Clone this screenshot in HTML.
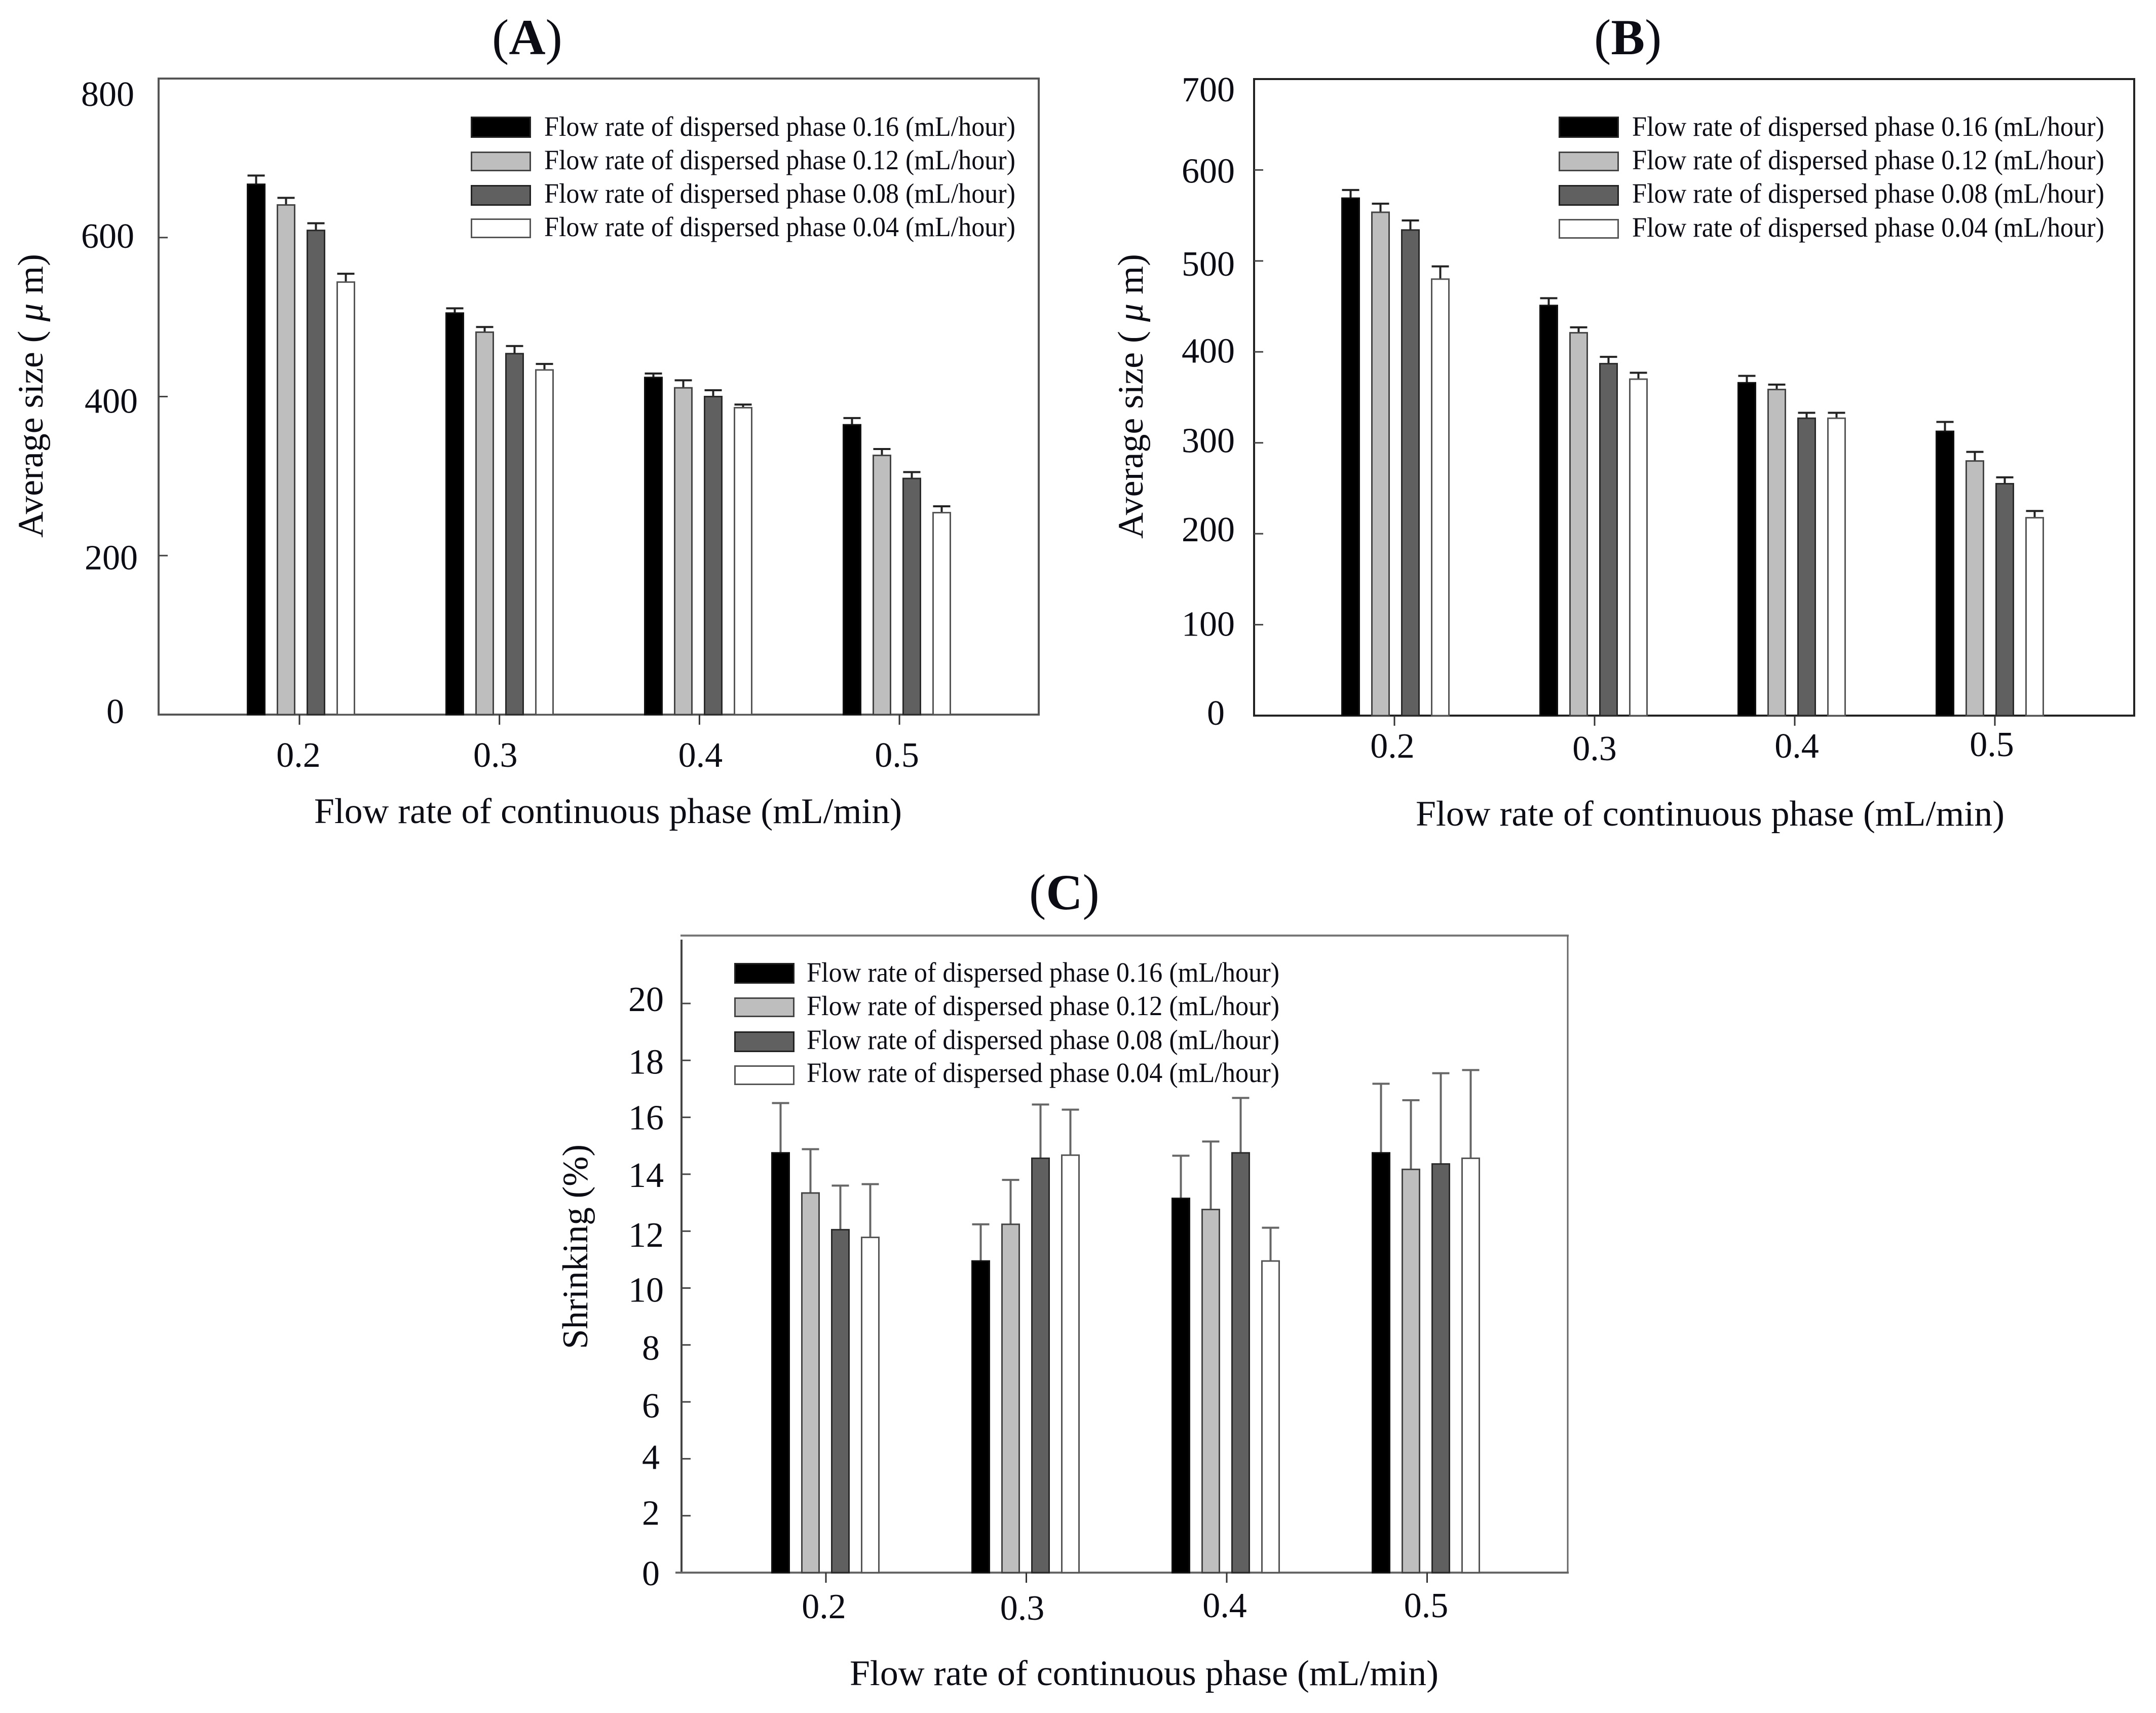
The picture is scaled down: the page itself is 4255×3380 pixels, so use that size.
<!DOCTYPE html>
<html lang="en">
<head>
<meta charset="utf-8">
<title>Flow rate charts</title>
<style>
html,body{margin:0;padding:0;background:#fff;}
svg{display:block;}
text{font-family:"Liberation Serif",serif;fill:#0c0c14;}
.tick{font-size:70px;}
.axt{font-size:71px;}
.leg{font-size:55px;}
.ttl{font-size:100px;}
.ttl tspan.b{font-weight:bold;}
</style>
</head>
<body>
<svg id="figure" xmlns="http://www.w3.org/2000/svg" width="4255" height="3380" viewBox="0 0 4255 3380">
<rect width="4255" height="3380" fill="#fff"/>

<!-- Panel A -->
<g id="panel-a">
  <text class="ttl" x="971" y="107">(<tspan class="b">A</tspan>)</text>
  <rect x="313" y="155" width="1737" height="1255" fill="none" stroke="#555" stroke-width="4"/>
  <text class="axt" transform="translate(84,1061) rotate(-90)" textLength="560" lengthAdjust="spacingAndGlyphs">Average size ( <tspan font-style="italic">μ</tspan> m)</text>
  <text class="axt" x="620" y="1624" textLength="1160" lengthAdjust="spacingAndGlyphs">Flow rate of continuous phase (mL/min)</text>
  <g>
    <rect x="930.5" y="231.5" width="116" height="39" fill="#000" stroke="#222" stroke-width="3"/>
    <rect x="930.5" y="300.5" width="116" height="36" fill="#bebebe" stroke="#444" stroke-width="3"/>
    <rect x="930.5" y="366.5" width="116" height="38" fill="#606060" stroke="#222" stroke-width="3"/>
    <rect x="930.5" y="432.5" width="116" height="36" fill="#fff" stroke="#555" stroke-width="3"/>
    <text class="leg" x="1074" y="268" textLength="930" lengthAdjust="spacingAndGlyphs">Flow rate of dispersed phase 0.16 (mL/hour)</text>
    <text class="leg" x="1074" y="334" textLength="930" lengthAdjust="spacingAndGlyphs">Flow rate of dispersed phase 0.12 (mL/hour)</text>
    <text class="leg" x="1074" y="400" textLength="930" lengthAdjust="spacingAndGlyphs">Flow rate of dispersed phase 0.08 (mL/hour)</text>
    <text class="leg" x="1074" y="466" textLength="930" lengthAdjust="spacingAndGlyphs">Flow rate of dispersed phase 0.04 (mL/hour)</text>
  </g>
</g>

<!-- Panel B -->
<g id="panel-b">
  <text class="ttl" x="3146" y="107">(<tspan class="b">B</tspan>)</text>
  <rect x="2475" y="156" width="1737" height="1256" fill="none" stroke="#222" stroke-width="4"/>
  <text class="axt" transform="translate(2255,1063) rotate(-90)" textLength="562" lengthAdjust="spacingAndGlyphs">Average size ( <tspan font-style="italic">μ</tspan> m)</text>
  <text class="axt" x="2794" y="1629" textLength="1162" lengthAdjust="spacingAndGlyphs">Flow rate of continuous phase (mL/min)</text>
  <g>
    <rect x="3077.5" y="231.5" width="116" height="39" fill="#000" stroke="#222" stroke-width="3"/>
    <rect x="3077.5" y="300.5" width="116" height="36" fill="#bebebe" stroke="#444" stroke-width="3"/>
    <rect x="3077.5" y="366.5" width="116" height="38" fill="#606060" stroke="#222" stroke-width="3"/>
    <rect x="3077.5" y="433.5" width="116" height="36" fill="#fff" stroke="#555" stroke-width="3"/>
    <text class="leg" x="3221" y="268" textLength="932" lengthAdjust="spacingAndGlyphs">Flow rate of dispersed phase 0.16 (mL/hour)</text>
    <text class="leg" x="3221" y="334" textLength="932" lengthAdjust="spacingAndGlyphs">Flow rate of dispersed phase 0.12 (mL/hour)</text>
    <text class="leg" x="3221" y="400" textLength="932" lengthAdjust="spacingAndGlyphs">Flow rate of dispersed phase 0.08 (mL/hour)</text>
    <text class="leg" x="3221" y="467" textLength="932" lengthAdjust="spacingAndGlyphs">Flow rate of dispersed phase 0.04 (mL/hour)</text>
  </g>
</g>

<!-- Panel C -->
<g id="panel-c">
  <text class="ttl" x="2031" y="1794">(<tspan class="b">C</tspan>)</text>
  <line x1="1343" y1="1846" x2="3096" y2="1846" stroke="#777" stroke-width="4"/>
  <line x1="3094" y1="1846" x2="3094" y2="3103" stroke="#666" stroke-width="3"/>
  <line x1="1345" y1="1854" x2="1345" y2="3103" stroke="#444" stroke-width="4"/>
  <line x1="1333" y1="3103" x2="3096" y2="3103" stroke="#666" stroke-width="4"/>
  <text class="axt" transform="translate(1159,2662) rotate(-90)" textLength="404" lengthAdjust="spacingAndGlyphs">Shrinking (%)</text>
  <text class="axt" x="1677" y="3325" textLength="1162" lengthAdjust="spacingAndGlyphs">Flow rate of continuous phase (mL/min)</text>
  <g>
    <rect x="1450.5" y="1901.5" width="116" height="38" fill="#000" stroke="#222" stroke-width="3"/>
    <rect x="1450.5" y="1969.5" width="116" height="36" fill="#bebebe" stroke="#444" stroke-width="3"/>
    <rect x="1450.5" y="2036.5" width="116" height="38" fill="#606060" stroke="#222" stroke-width="3"/>
    <rect x="1450.5" y="2103.5" width="116" height="36" fill="#fff" stroke="#555" stroke-width="3"/>
    <text class="leg" x="1592" y="1937" textLength="933" lengthAdjust="spacingAndGlyphs">Flow rate of dispersed phase 0.16 (mL/hour)</text>
    <text class="leg" x="1592" y="2003" textLength="933" lengthAdjust="spacingAndGlyphs">Flow rate of dispersed phase 0.12 (mL/hour)</text>
    <text class="leg" x="1592" y="2070" textLength="933" lengthAdjust="spacingAndGlyphs">Flow rate of dispersed phase 0.08 (mL/hour)</text>
    <text class="leg" x="1592" y="2135" textLength="933" lengthAdjust="spacingAndGlyphs">Flow rate of dispersed phase 0.04 (mL/hour)</text>
  </g>
</g>
</svg>

<script>
// ---- chart data ----
const categories = [0.2, 0.3, 0.4, 0.5];
const seriesNames = ['0.16', '0.12', '0.08', '0.04'];

const yTicksA = [0, 200, 400, 600, 800];
const a016 = [667, 505, 424, 364.5];
const a012 = [641, 481, 411, 326];
const a008 = [609, 454, 400, 297];
const a004 = [544, 433.5, 386, 254];
const a016Err = [11, 6, 5, 8.5];
const a012Err = [9, 6.5, 9.5, 8];
const a008Err = [9, 9.6, 8, 8];
const a004Err = [10.5, 7.5, 4, 8];

const yTicksB = [0, 100, 200, 300, 400, 500, 600, 700];
const b016 = [569, 451, 366, 312.6];
const b012 = [553.5, 421, 358.6, 280];
const b008 = [534, 387, 327, 255];
const b004 = [480, 370, 327, 217.6];
const b016Err = [9, 8, 7.6, 10.4];
const b012Err = [9.5, 6, 5.4, 10];
const b008Err = [10.5, 7.5, 6, 7];
const b004Err = [14, 7, 6, 7.4];

const yTicksC = [0, 2, 4, 6, 8, 10, 12, 14, 16, 18, 20];
const c016 = [14.75, 10.95, 13.15, 14.75];
const c012 = [13.34, 12.24, 12.76, 14.17];
const c008 = [12.05, 14.56, 14.75, 14.36];
const c004 = [11.78, 14.67, 10.95, 14.56];
const c016Err = [1.75, 1.29, 1.5, 2.43];
const c012Err = [1.54, 1.56, 2.39, 2.43];
const c008Err = [1.55, 1.89, 1.93, 3.19];
const c004Err = [1.87, 1.6, 1.17, 3.1];

// ---- rendering ----
const NS = 'http://www.w3.org/2000/svg';
const fills = ['#000000', '#bebebe', '#606060', '#ffffff'];
const strokes = ['#111111', '#444444', '#2a2a2a', '#555555'];

function mk(parent, tag, attrs) {
  const el = document.createElementNS(NS, tag);
  for (const k in attrs) el.setAttribute(k, attrs[k]);
  parent.appendChild(el);
  return el;
}

function drawPanel(cfg) {
  const root = document.getElementById(cfg.id);
  const xScale = function (c) { return cfg.x0 + (c - categories[0]) / 0.1 * cfg.xStep; };
  const barScale = function (c) { return cfg.x0 + cfg.barShift + (c - categories[0]) / 0.1 * cfg.barStep; };
  const yScale = function (v) { return cfg.yBase - v / cfg.yMax * (cfg.yBase - cfg.yTop); };

  cfg.yTicks.forEach(function (t, i) {
    if (t !== 0 && (t !== cfg.yMax || cfg.topTick)) {
      const tick = mk(root, 'line', {x1: cfg.left, x2: cfg.left + 18, y1: yScale(t), y2: yScale(t), stroke: '#444', 'stroke-width': 3});
      
      
    }
    const lab = mk(root, 'text', {'class': 'tick', x: cfg.yLabRight[i], y: yScale(t) + cfg.yLabDy[i], 'text-anchor': 'end'});
    lab.textContent = String(t);
    
    
  });

  categories.forEach(function (c, i) {
    const tx = xScale(c);
    const tick = mk(root, 'line', {x1: tx, x2: tx, y1: cfg.yBase, y2: cfg.yBase + 20, stroke: '#333', 'stroke-width': 3});
    
    
    const lab = mk(root, 'text', {'class': 'tick', x: tx + cfg.xLabDx[i], y: cfg.xLabY[i], 'text-anchor': 'middle'});
    lab.textContent = c.toFixed(1);
    
    
  });

  cfg.means.forEach(function (series, s) {
    series.forEach(function (v, i) {
      const cx = barScale(categories[i]) + (s - 1.5) * 59;
      const top = yScale(v);
      const errTop = yScale(v + cfg.errs[s][i]);
      const stem = mk(root, 'line', {x1: cx, x2: cx, y1: top, y2: errTop, stroke: cfg.errColor, 'stroke-width': 4});
      
      
      const cap = mk(root, 'line', {x1: cx - 17, x2: cx + 17, y1: errTop, y2: errTop, stroke: cfg.errColor, 'stroke-width': 4});
      
      
      const bar = mk(root, 'rect', {x: cx - 17, y: top, width: 34, height: cfg.yBase - top, fill: fills[s], stroke: strokes[s], 'stroke-width': 3});
      
      
    });
  });
}

drawPanel({
  id: 'panel-a', left: 313, x0: 591, xStep: 394.7, barStep: 392, yBase: 1410, yTop: 155, yMax: 800, barShift: 3, errColor: '#222', topTick: false,
  yTicks: yTicksA,
  yLabDy: [17, 27, 32, 20, 54],
  yLabRight: [245, 272, 272, 265, 265],
  xLabDx: [-2, -8, 2, -5],
  xLabY: [1513, 1513, 1513, 1513],
  means: [a016, a012, a008, a004],
  errs: [a016Err, a012Err, a008Err, a004Err]
});
drawPanel({
  id: 'panel-b', left: 2475, x0: 2752, xStep: 395, barStep: 391, yBase: 1412, yTop: 156, yMax: 700, barShift: 2, errColor: '#222', topTick: false,
  yTicks: yTicksB,
  yLabDy: [18, 22, 15, 19, 21, 29, 25, 44],
  yLabRight: [2417, 2437, 2437, 2437, 2437, 2437, 2437, 2437],
  xLabDx: [-4, 0, 4, -6],
  xLabY: [1495, 1500, 1495, 1492],
  means: [b016, b012, b008, b004],
  errs: [b016Err, b012Err, b008Err, b004Err]
});
drawPanel({
  id: 'panel-c', left: 1345, x0: 1630, xStep: 395.5, barStep: 395, yBase: 3103, yTop: 1980, yMax: 20, barShift: -1, errColor: '#666', topTick: true,
  yTicks: yTicksC,
  yLabDy: [25, 18, 20, 31, 29, 27, 31, 25, 24, 26, 15],
  yLabRight: [1302, 1302, 1302, 1302, 1302, 1310, 1310, 1310, 1310, 1310, 1310],
  xLabDx: [-4, -8, -4, -2],
  xLabY: [3193, 3196, 3191, 3191],
  means: [c016, c012, c008, c004],
  errs: [c016Err, c012Err, c008Err, c004Err]
});
</script>
</body>
</html>
